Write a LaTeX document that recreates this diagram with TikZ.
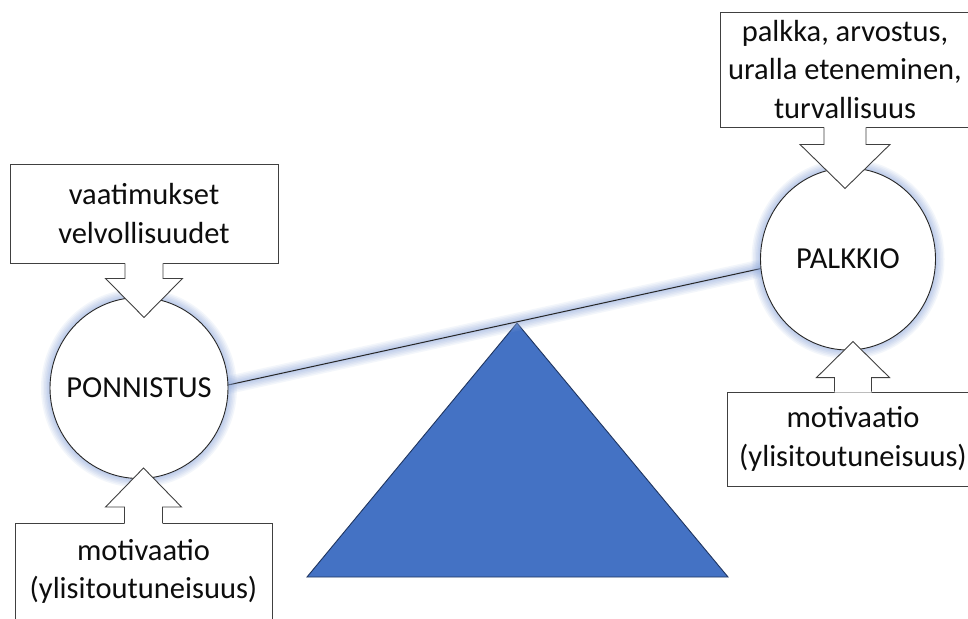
\documentclass[tikz,border=0pt]{standalone}
\usepackage{fontspec}
\setmainfont{Carlito}
\usepackage{xcolor}
\usetikzlibrary{shapes.geometric, positioning}
\definecolor{glowblue}{HTML}{8FAADC}
\definecolor{triblue}{HTML}{4472C4}
\definecolor{tridark}{HTML}{1F3560}
\definecolor{edgegray}{HTML}{404040}
\tikzset{
  glow/.style={preaction={draw=glowblue, line width=18pt, draw opacity=.1},
               preaction={draw=glowblue, line width=15pt, draw opacity=.11},
               preaction={draw=glowblue, line width=12pt, draw opacity=.12},
               preaction={draw=glowblue, line width=9pt, draw opacity=.13},
               preaction={draw=glowblue, line width=6pt, draw opacity=.14},
               preaction={draw=glowblue, line width=3pt, draw opacity=.15}},
  pan/.style={ellipse, draw=black!85, line width=0.9pt, fill=white, glow, inner sep=0pt},
  textbox/.style={rectangle, draw=edgegray, line width=0.9pt, fill=white, align=center, inner sep=0pt},
  calloutline/.style={draw=edgegray, line width=0.9pt},
}

\begin{document}
\begin{tikzpicture}[x=1pt, y=-1pt, font=\fontsize{30.5}{38.5}\selectfont, text=black!95]
\useasboundingbox (0,0) rectangle (968,618);
\clip (0,0) rectangle (968,618);
\fill[white] (0,0) rectangle (968,618);
\draw [fill=triblue, draw=tridark, line width=0.9pt] (517,323) -- (728,577) -- (307,577) -- cycle;
\coordinate (lbeam) at (228,385);
\coordinate (rbeam) at (761,268.5);
\draw [glow, line width=1pt, black!85] (lbeam) -- (rbeam);
\node [pan, minimum width=178pt, minimum height=181pt] (ponnistus) at (139,388) {\makebox[0pt]{PONNISTUS}};
\node [pan, minimum width=175pt, minimum height=182pt] (palkkio) at (848,259) {\makebox[0pt]{PALKKIO}};
\node [textbox, minimum width=268pt, minimum height=99pt] (vaat) at (144,213.5) {vaatimukset\\velvollisuudet};
\node [textbox, minimum width=250pt, minimum height=115pt] (palk) at (845,69.5) {palkka, arvostus,\\uralla eteneminen,\\turvallisuus};
\node [textbox, minimum width=257pt, minimum height=96pt, anchor=north] (motl) at (143.5,523) {motivaatio\\(ylisitoutuneisuus)};
\node [textbox, minimum width=252pt, minimum height=94pt] (motr) at (853,439) {motivaatio\\(ylisitoutuneisuus)};
\foreach \b/\e/\s/\w/\l/\h/\k in {vaat/south/1/19/15/38.5/39, palk/south/1/21/17/45/44, motl/north/-1/19/16/38/39, motr/north/-1/18.5/14/36.5/36} {
  \fill [white] ([shift={({-\w},{-1*\s})}]\b.\e) -- ++(0,{\s*(\l+1)}) -- ++({\w-\h},0) -- ++(\h,{\s*\k}) -- ++(\h,{-1*\s*\k}) -- ++({\w-\h},0) -- ++(0,{-1*\s*(\l+1)}) -- cycle;
  \draw [calloutline] ([shift={({-\w},0)}]\b.\e) -- ++(0,{\s*\l}) -- ++({\w-\h},0) -- ++(\h,{\s*\k}) -- ++(\h,{-1*\s*\k}) -- ++({\w-\h},0) -- ++(0,{-1*\s*\l});
}
\end{tikzpicture}
\end{document}
